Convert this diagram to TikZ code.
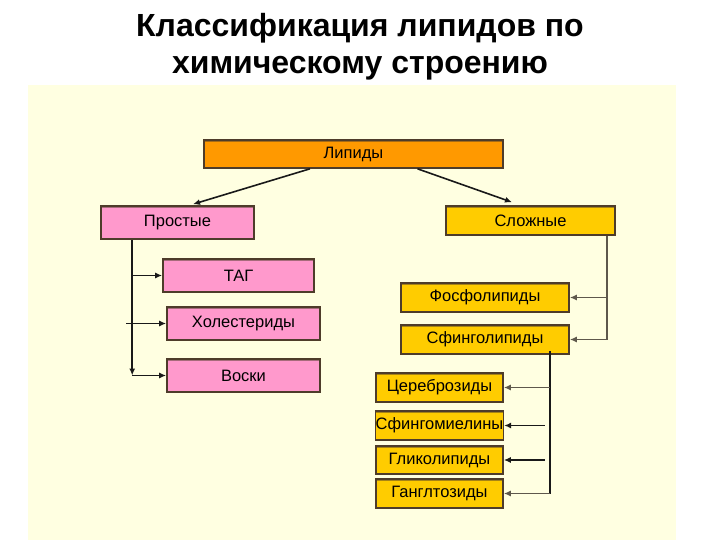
\documentclass[tikz,border=0pt]{standalone}
\usepackage{fontspec}
\setmainfont{Liberation Sans}
\usetikzlibrary{calc,arrows.meta}
\definecolor{panel}{HTML}{FFFFE1}
\definecolor{orng}{HTML}{FF9900}
\definecolor{pnk}{HTML}{FF99CC}
\definecolor{gld}{HTML}{FFCC00}
\definecolor{brd}{HTML}{4E3C2A}
\definecolor{lngray}{HTML}{5E584C}
\tikzset{
  box/.style={draw=brd, line width=1.6pt, rectangle, inner sep=0pt,
    font=\fontsize{16.5}{18}\selectfont,
    path picture={\draw[line width=4pt, #1!50!brd]
      (path picture bounding box.north west) -- (path picture bounding box.north east);},
    fill=#1},
  arr/.style={draw=black!90, line width=1.6pt, -{Latex[length=7pt,width=6pt]}},
  garr/.style={draw=lngray, line width=1.8pt, -{Latex[length=7pt,width=6pt]}},
  ttl/.style={font=\bfseries\fontsize{32}{36}\selectfont, anchor=base}
}
\begin{document}
\begin{tikzpicture}[x=1pt,y=-1pt]
\useasboundingbox (0,0) rectangle (720,540);
\fill[white] (0,0) rectangle (720,540);
\fill[panel] (28,85) rectangle (676,540);
\node[ttl] (t1) at (360,37) {Классификация липидов по};
\node[ttl] (t2) at (360,74) {химическому строению};

\node[box=orng, minimum width=299pt, minimum height=28pt] (lip) at (353.5,154) {Липиды};
\node[box=pnk, minimum width=153pt, minimum height=33pt] (prost) at (177.5,222.5) {Простые};
\node[box=gld, minimum width=169pt, minimum height=29pt] (slozh) at (530.5,220.5) {Сложные};
\node[box=pnk, minimum width=151pt, minimum height=33pt] (tag) at (238.5,275.5) {ТАГ};
\node[box=pnk, minimum width=153pt, minimum height=33pt] (hol) at (243.5,323.5) {Холестериды};
\node[box=pnk, minimum width=153pt, minimum height=33pt] (vosk) at (243.5,375.5) {Воски};
\node[box=gld, minimum width=168pt, minimum height=29pt] (fosf) at (485,297.5) {Фосфолипиды};
\node[box=gld, minimum width=168pt, minimum height=29pt] (sfing) at (485,339.5) {Сфинголипиды};
\node[box=gld, minimum width=127pt, minimum height=29pt] (cer) at (439.5,387.5) {Цереброзиды};
\node[box=gld, minimum width=127pt, minimum height=29pt] (sfm) at (439.5,425.5) {Сфингомиелины};
\node[box=gld, minimum width=127pt, minimum height=28pt] (glik) at (439.5,460) {Гликолипиды};
\node[box=gld, minimum width=127pt, minimum height=29pt] (gang) at (439.5,493.5) {Ганглтозиды};

% from Lipids
\draw[arr] ($(lip.south)+(-43.5,0)$) -- ($(prost.north)+(15.5,-1)$);
\draw[arr] ($(lip.south)+(64,0)$) -- ($(slozh.north)+(-18.5,-3)$);

% simple lipids trunk
\coordinate (pt) at ($(prost.south west)+(32,0)$);
\draw[arr] (pt) -- (pt |- vosk.west);
\draw[arr] (pt |- tag.west) -- (tag.west);
\draw[arr] ([xshift=-6pt]pt |- hol.west) -- (hol.west);
\draw[arr] (pt |- vosk.west) -- (vosk.west);

% complex lipids trunk
\coordinate (st) at ($(slozh.south east)+(-9,0)$);
\draw[lngray, line width=1.8pt] (st) -- (st |- sfing.east);
\draw[garr] (st |- fosf.east) -- (fosf.east);
\draw[garr] (st |- sfing.east) -- (sfing.east);

% sphingolipids trunk
\coordinate (sg) at ($(sfing.south east)+(-20,-4)$);
\draw[black!90, line width=1.6pt] (sg) -- (sg |- gang.east);
\draw[garr] (sg |- cer.east) -- (cer.east);
\draw[arr] ([xshift=-5pt]sg |- sfm.east) -- (sfm.east);
\draw[arr] ([xshift=-5pt]sg |- glik.east) -- (glik.east);
\draw[garr] (sg |- gang.east) -- (gang.east);
\end{tikzpicture}
\end{document}
